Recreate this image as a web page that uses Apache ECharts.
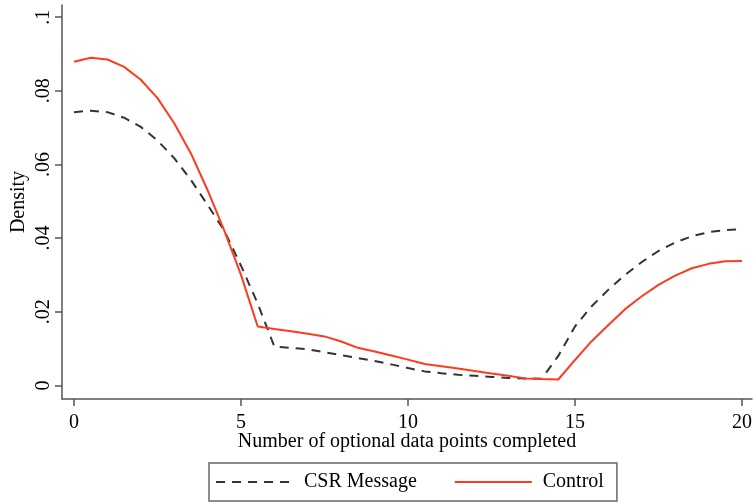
<!DOCTYPE html>
<html>
<head>
<meta charset="utf-8">
<script src="https://cdn.jsdelivr.net/npm/echarts@6/dist/echarts.min.js"></script>
<style>
  html, body { margin: 0; padding: 0; background: #fff; }
  #chart { width: 755px; height: 503px; }
</style>
</head>
<body>
<div id="chart"></div>
<script>
// number of optional data points completed
var xs = [0, 0.5, 1, 1.5, 2, 2.5, 3, 3.5, 4, 4.5, 5, 5.5, 6, 6.5, 7, 7.5, 8, 8.5, 9, 9.5, 10,
          10.5, 11, 11.5, 12, 12.5, 13, 13.5, 14, 14.5, 15, 15.5, 16, 16.5, 17, 17.5, 18, 18.5, 19, 19.5, 20];
// density, CSR message group (dashed)
var csrDensity = [0.0742, 0.0746, 0.0742, 0.0727, 0.0702, 0.0665, 0.0617, 0.0558, 0.0490, 0.0420, 0.0325,
                  0.0222, 0.0105, 0.0102, 0.0098, 0.0090, 0.0082, 0.0074, 0.0066, 0.0057, 0.0047,
                  0.0038, 0.0033, 0.0029, 0.0026, 0.0023, 0.0020, 0.0019, 0.0018, 0.0080, 0.0160,
                  0.0215, 0.0260, 0.0300, 0.0335, 0.0365, 0.0388, 0.0405, 0.0416, 0.0422, 0.0424];
// density, control group (red)
var controlDensity = [0.0879, 0.0890, 0.0885, 0.0865, 0.0830, 0.0780, 0.0712, 0.0630, 0.0530, 0.0420, 0.0300,
                      0.0160, 0.0153, 0.0147, 0.0140, 0.0133, 0.0119, 0.0102, 0.0092, 0.0081, 0.0070,
                      0.0058, 0.0052, 0.0046, 0.0039, 0.0032, 0.0026, 0.0019, 0.0017, 0.0016, 0.0069,
                      0.0120, 0.0164, 0.0207, 0.0242, 0.0273, 0.0298, 0.0318, 0.0330, 0.0337, 0.0338];
var xTicks = [0, 5, 10, 15, 20];
var yTicks = [0, 0.02, 0.04, 0.06, 0.08, 0.1];

function pairs(ys) {
  return xs.map(function (x, i) { return [x, ys[i]]; });
}
function stataNum(v) {
  if (v === 0) return '0';
  return String(+v.toFixed(2)).replace(/^0\./, '.');
}

var font = 'Liberation Serif';
var axisColor = '#555';

var chart = echarts.init(document.getElementById('chart'));
chart.setOption({
  animation: false,
  backgroundColor: '#fff',
  grid: { left: 62, right: 3, top: 5, bottom: 104, outerBoundsMode: 'none', containLabel: false },
  xAxis: {
    type: 'value',
    min: -0.36,
    max: 20.3,
    name: 'Number of optional data points completed',
    nameLocation: 'middle',
    nameGap: 33,
    nameMoveOverlap: false,
    nameTextStyle: { fontFamily: font, fontSize: 20, color: '#000' },
    axisLine: { onZero: false, lineStyle: { color: axisColor, width: 1.5 } },
    axisTick: { length: 7, customValues: xTicks, lineStyle: { color: axisColor, width: 1.5 } },
    axisLabel: { customValues: xTicks, margin: 14, fontFamily: font, fontSize: 20, color: '#000' },
    splitLine: { show: false }
  },
  yAxis: {
    type: 'value',
    min: -0.0037,
    max: 0.1033,
    name: 'Density',
    nameLocation: 'middle',
    nameRotate: 90,
    nameGap: 33,
    nameMoveOverlap: false,
    nameTextStyle: { fontFamily: font, fontSize: 20, color: '#000' },
    axisLine: { show: true, onZero: false, lineStyle: { color: axisColor, width: 1.5 } },
    axisTick: { show: true, length: 7, customValues: yTicks, lineStyle: { color: axisColor, width: 1.5 } },
    axisLabel: {
      customValues: yTicks, rotate: 90, margin: 8,
      fontFamily: font, fontSize: 20, color: '#000',
      formatter: stataNum
    },
    splitLine: { show: false }
  },
  legend: {
    left: 209,
    top: 463,
    orient: 'horizontal',
    data: ['CSR Message', 'Control'],
    itemWidth: 77,
    itemHeight: 14,
    itemGap: 37,
    padding: [9, 13, 9, 6],
    borderColor: '#666',
    borderWidth: 1.5,
    itemStyle: { opacity: 0 },
    textStyle: { fontFamily: font, fontSize: 20, color: '#000', padding: [0, 0, 0, 6] }
  },
  series: [
    {
      name: 'CSR Message',
      type: 'line',
      data: pairs(csrDensity),
      symbol: 'none',
      lineStyle: { color: '#333', width: 2, type: [9, 7] },
      itemStyle: { color: '#333' }
    },
    {
      name: 'Control',
      type: 'line',
      data: pairs(controlDensity),
      symbol: 'none',
      lineStyle: { color: '#ff3b1e', width: 2 },
      itemStyle: { color: '#ff3b1e' }
    }
  ]
});
</script>
</body>
</html>
